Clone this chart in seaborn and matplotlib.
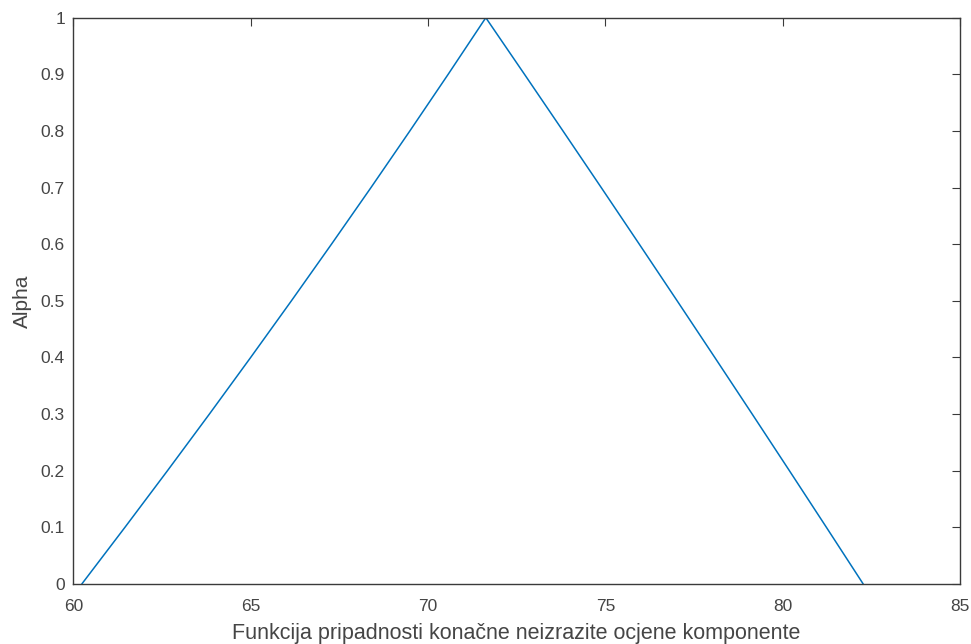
import matplotlib
matplotlib.use("Agg")
import matplotlib.pyplot as plt
import seaborn as sns
import numpy as np
import pandas as pd

# Alpha-cut levels and the left/right bounds of the fuzzy number
alpha_levels = [0.0, 0.1, 0.2, 0.3, 0.4, 0.5, 0.6, 0.7, 0.8, 0.9, 1.0]
left_bounds = [60.24, 61.455, 62.654, 63.836, 65.000, 66.148, 67.278, 68.392, 69.488, 70.568, 71.63]
right_bounds = [82.27, 81.233, 80.19, 79.141, 78.086, 77.025, 75.958, 74.885, 73.806, 72.721, 71.63]

x_ticks = [60, 65, 70, 75, 80, 85]
y_ticks = [0, 0.1, 0.2, 0.3, 0.4, 0.5, 0.6, 0.7, 0.8, 0.9, 1]
y_tick_labels = ["0", "0.1", "0.2", "0.3", "0.4", "0.5", "0.6", "0.7", "0.8", "0.9", "1"]
x_label = "Funkcija pripadnosti konačne neizrazite ocjene komponente"
y_label = "Alpha"

sns.set_theme(style="white")
plt.rcParams["font.family"] = ["Liberation Sans", "DejaVu Sans"]

xs = left_bounds + right_bounds[::-1][1:]
ys = alpha_levels + alpha_levels[::-1][1:]
df = pd.DataFrame({"x": xs, "alpha": ys})

fig = plt.figure(figsize=(9.71, 6.44), dpi=100)
ax = fig.add_axes([0.0755, 0.0932, 0.9132, 0.8793])
sns.lineplot(data=df, x="x", y="alpha", sort=False, estimator=None,
             color="#0072BD", linewidth=1.1, ax=ax)

ax.set_xlim(60, 85)
ax.set_ylim(0, 1)
ax.set_xticks(x_ticks)
ax.set_xticklabels([str(t) for t in x_ticks])
ax.set_yticks(y_ticks)
ax.set_yticklabels(y_tick_labels)

edge = "#3a3a3a"
for s in ax.spines.values():
    s.set_visible(True)
    s.set_color(edge)
    s.set_linewidth(1.0)

ax.tick_params(axis="both", which="major", direction="in", length=5.5, width=0.8,
               color=edge, labelcolor="#454545", labelsize=12.5,
               top=True, right=True)
ax.tick_params(axis="x", pad=11)
ax.tick_params(axis="y", pad=6)

ax.set_xlabel(x_label, fontsize=15.5, color="#454545", labelpad=6)
ax.set_ylabel(y_label, fontsize=15, color="#454545", labelpad=6)
ax.grid(False)

fig.savefig("out.png", dpi=100)
